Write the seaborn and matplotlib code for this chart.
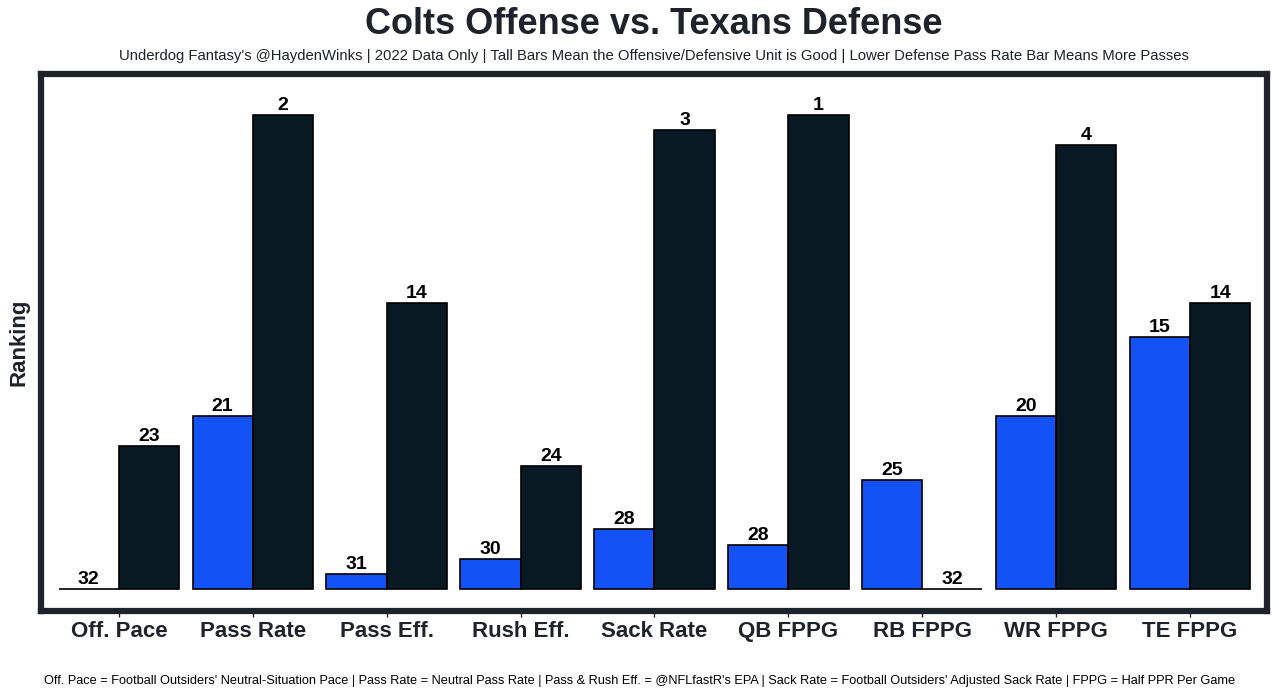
import matplotlib
matplotlib.use("Agg")
import matplotlib.pyplot as plt
import seaborn as sns
import pandas as pd

categories = ["Off. Pace", "Pass Rate", "Pass Eff.", "Rush Eff.", "Sack Rate",
              "QB FPPG", "RB FPPG", "WR FPPG", "TE FPPG"]
offense_rank = [32, 21, 31, 30, 28, 28, 25, 20, 15]
defense_rank = [23, 2, 14, 24, 3, 1, 32, 4, 14]
offense_height = [0, 10.95, 0.95, 1.9, 3.8, 2.8, 6.9, 10.95, 15.95]
defense_height = [9.05, 30.0, 18.1, 7.8, 29.05, 30.0, 0, 28.1, 18.1]
units = ["Offense", "Defense"]

df = pd.DataFrame({
    "category": categories * 2,
    "unit": [units[0]] * len(categories) + [units[1]] * len(categories),
    "value": offense_height + defense_height,
})

sns.set_style("white")
plt.rcParams["font.family"] = ["Liberation Sans", "DejaVu Sans"]

fig = plt.figure(figsize=(12.79, 6.97), dpi=100)
ax = fig.add_axes([41 / 1279, 1 - 611 / 697, (1267 - 41) / 1279, (611 - 73.5) / 697])

sns.barplot(data=df, x="category", y="value", hue="unit", hue_order=units,
            order=categories, palette=["#1352f5", "#081923"], saturation=1,
            width=0.9, edgecolor="black", linewidth=1.2, errorbar=None,
            legend=False, ax=ax)

for cont, ranks in zip(ax.containers, [offense_rank, defense_rank]):
    ax.bar_label(cont, labels=[str(r) for r in ranks], padding=0.5,
                 fontsize=14, fontweight="bold", color="black")

ax.set_xlim(-0.582, 8.575)
ax.set_ylim(-1.4, 32.6)
ax.set_yticks([])
ax.set_xlabel("")
ax.set_ylabel("Ranking", fontsize=16, fontweight="bold", color="#1e222b", labelpad=8)
ax.tick_params(axis="x", length=4, width=1, color="#1e222b", labelsize=16,
               labelcolor="#1e222b", pad=3, bottom=True)
for lbl in ax.get_xticklabels():
    lbl.set_fontweight("bold")
for sp in ax.spines.values():
    sp.set_visible(True)
    sp.set_linewidth(4.5)
    sp.set_color("#1e222b")

cx = (41 + 1267) / 2 / 1279
fig.text(cx, 1 - 25 / 697, "Colts Offense vs. Texans Defense", ha="center", va="center",
         fontsize=26, fontweight="bold", color="#1e222b")
fig.text(cx, 1 - 56 / 697,
         "Underdog Fantasy's @HaydenWinks | 2022 Data Only | Tall Bars Mean the Offensive/Defensive Unit is Good | Lower Defense Pass Rate Bar Means More Passes",
         ha="center", va="center", fontsize=10.68, color="#1e222b")
fig.text(0.5, 1 - 681 / 697,
         "Off. Pace = Football Outsiders' Neutral-Situation Pace | Pass Rate = Neutral Pass Rate | Pass & Rush Eff. = @NFLfastR's EPA | Sack Rate = Football Outsiders' Adjusted Sack Rate | FPPG = Half PPR Per Game",
         ha="center", va="center", fontsize=9.2, color="black")

fig.savefig("out.png", dpi=100, facecolor="white")
